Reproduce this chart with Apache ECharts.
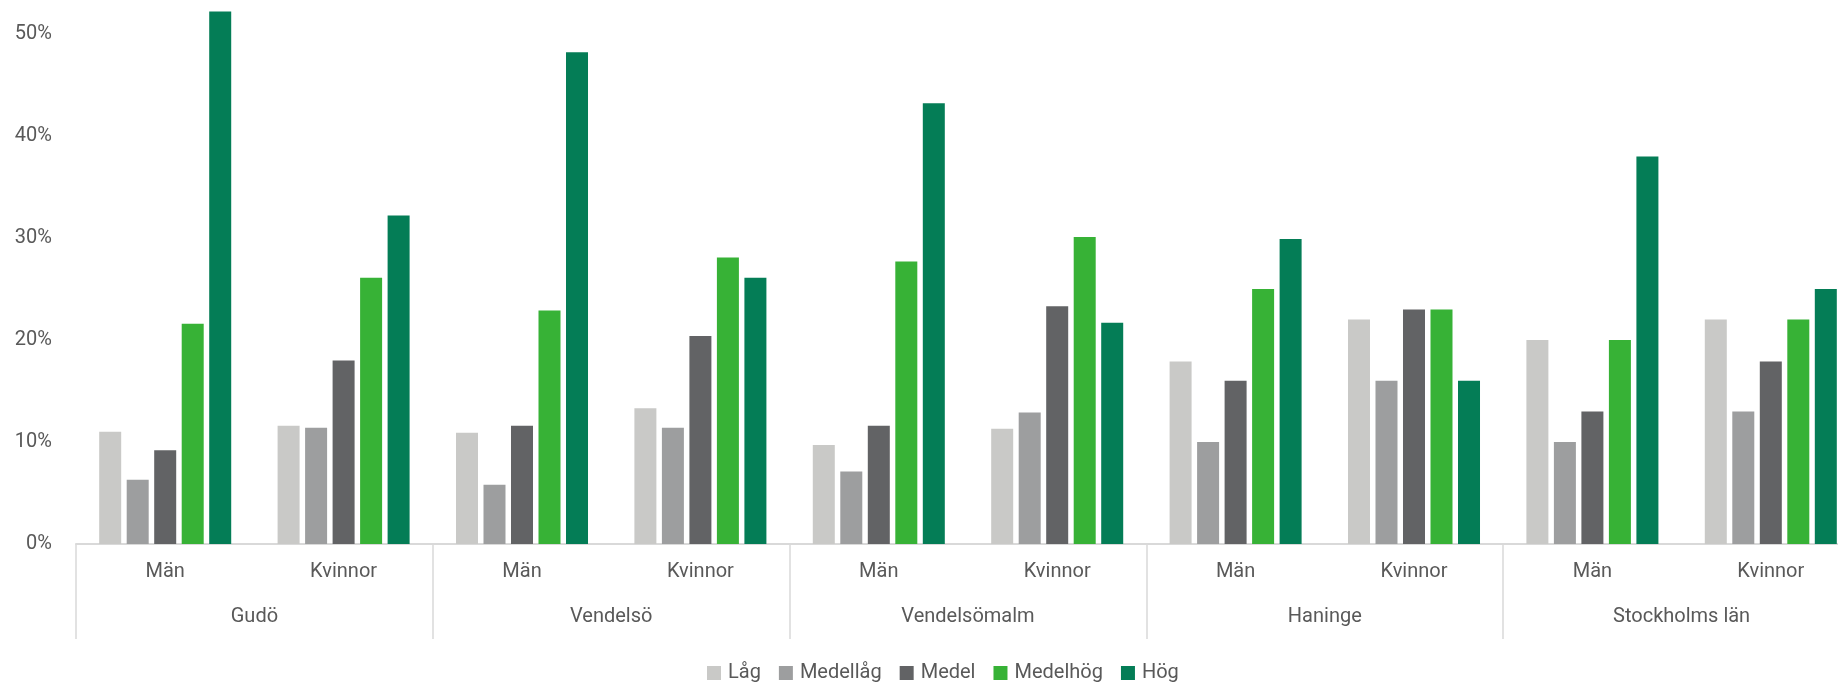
<!DOCTYPE html>
<html>
<head>
<meta charset="utf-8">
<script src="https://cdn.jsdelivr.net/npm/echarts@6/dist/echarts.min.js"></script>
<style>
  html, body { margin: 0; padding: 0; background: #ffffff; overflow: hidden; width: 1838px; height: 683px; }
  #chart { width: 1860px; height: 683px; }
</style>
</head>
<body>
<div id="chart"></div>
<script>
// ---- data ----
const groups = ['Gudö', 'Vendelsö', 'Vendelsömalm', 'Haninge', 'Stockholms län'];
const subCategories = ['Män', 'Kvinnor', 'Män', 'Kvinnor', 'Män', 'Kvinnor', 'Män', 'Kvinnor', 'Män', 'Kvinnor'];
const seriesNames = ['Låg', 'Medellåg', 'Medel', 'Medelhög', 'Hög'];
const lag      = [11.0, 11.6, 10.9, 13.3,  9.7, 11.3, 17.9, 22.0, 20.0, 22.0];
const medellag = [ 6.3, 11.4,  5.8, 11.4,  7.1, 12.9, 10.0, 16.0, 10.0, 13.0];
const medel    = [ 9.2, 18.0, 11.6, 20.4, 11.6, 23.3, 16.0, 23.0, 13.0, 17.9];
const medelhog = [21.6, 26.1, 22.9, 28.1, 27.7, 30.1, 25.0, 23.0, 20.0, 22.0];
const hog      = [52.2, 32.2, 48.2, 26.1, 43.2, 21.7, 29.9, 16.0, 38.0, 25.0];
const yTicks = [0, 10, 20, 30, 40, 50];

const colors = ['#c9c9c7', '#9d9e9f', '#626365', '#37b236', '#047d56'];
const values = [lag, medellag, medel, medelhog, hog];

const FONT = 'Roboto, "Open Sans", sans-serif';
const TXT = '#595959';
const FS = 20;

const chart = echarts.init(document.getElementById('chart'), null, { renderer: 'canvas' });

const series = seriesNames.map((name, i) => ({
  name: name,
  type: 'bar',
  xAxisIndex: 0,
  yAxisIndex: 0,
  data: values[i],
  clip: false,
  barGap: '25%',
  barCategoryGap: '26%',
  itemStyle: { color: colors[i] },
  emphasis: { disabled: true },
  animation: false
}));

chart.setOption({
  animation: false,
  color: colors,
  grid: { left: 76, right: 0, top: 34, bottom: 139, containLabel: false },
  legend: {
    data: seriesNames,
    left: 702,
    top: 658,
    itemWidth: 14,
    itemHeight: 14,
    itemGap: 18,
    icon: 'rect',
    textStyle: { fontFamily: FONT, fontSize: FS, color: TXT, padding: [0, 0, 0, 2] }
  },
  xAxis: [
    {
      type: 'category',
      data: subCategories,
      position: 'bottom',
      axisLine: { show: true, lineStyle: { color: '#d9d9d9', width: 2 } },
      axisTick: { show: false },
      axisLabel: { margin: 18, fontFamily: FONT, fontSize: FS, color: TXT, lineHeight: 20, interval: 0 },
      splitLine: { show: false }
    },
    {
      type: 'category',
      data: groups,
      position: 'bottom',
      axisLine: { show: false },
      axisTick: { show: true, length: 95, lineStyle: { color: '#d9d9d9', width: 1.5 } },
      axisLabel: { margin: 63, fontFamily: FONT, fontSize: FS, color: TXT, lineHeight: 20, interval: 0 },
      splitLine: { show: false }
    }
  ],
  yAxis: {
    type: 'value',
    min: yTicks[0],
    max: yTicks[yTicks.length - 1],
    interval: 10,
    axisLine: { show: false },
    axisTick: { show: false },
    splitLine: { show: false },
    axisLabel: { margin: 24, fontFamily: FONT, fontSize: FS, color: TXT, formatter: '{value}%' }
  },
  series: series
});
</script>
</body>
</html>
